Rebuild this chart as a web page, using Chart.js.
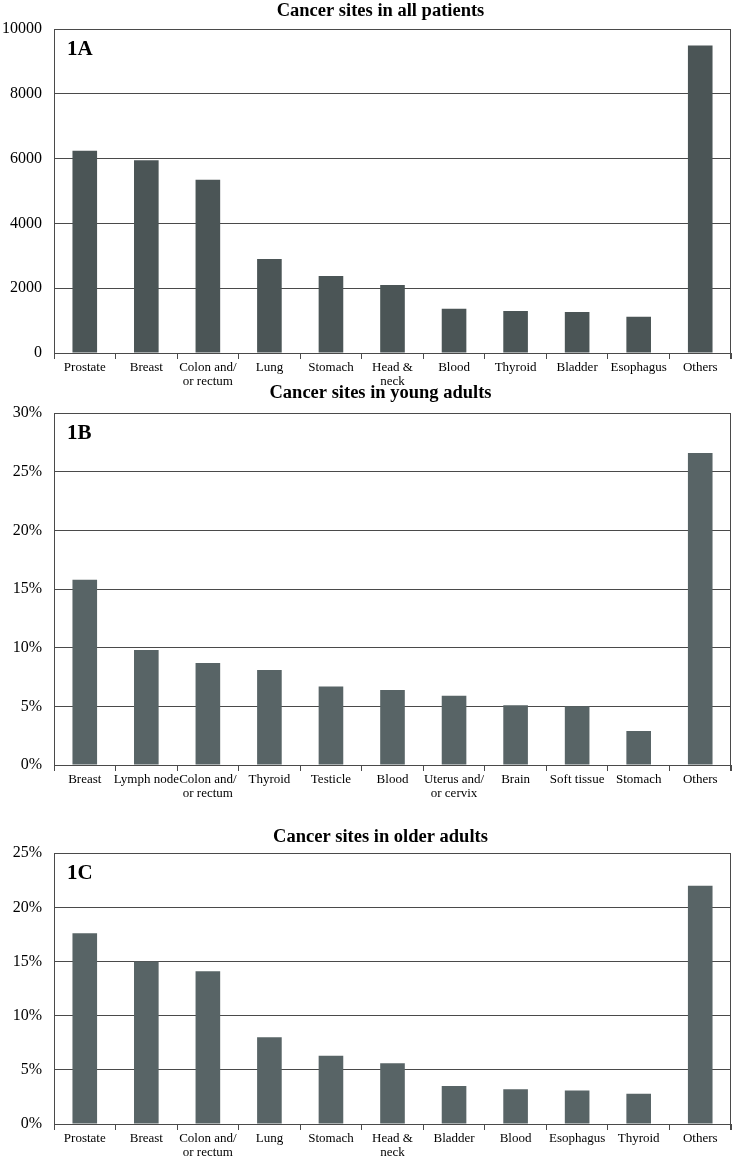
<!DOCTYPE html>
<html>
<head>
<meta charset="utf-8">
<script src="https://cdn.jsdelivr.net/npm/chart.js@4.4.1/dist/chart.umd.min.js"></script>
<style>
  body { margin: 0; background: #fff; width: 733px; height: 1159px; position: relative; overflow: hidden; }
  .box { position: absolute; left: 0; width: 733px; }
</style>
</head>
<body>
<div class="box" style="top:0;height:390px"><canvas id="chartA"></canvas></div>
<div class="box" style="top:382px;height:418px"><canvas id="chartB"></canvas></div>
<div class="box" style="top:826px;height:333px"><canvas id="chartC"></canvas></div>
<script>
// 1A - all patients (number of patients)
const sitesAll = ["Prostate", "Breast", ["Colon and/", "or rectum"], "Lung", "Stomach", ["Head &", "neck"],
  "Blood", "Thyroid", "Bladder", "Esophagus", "Others"];
const countsAll = [6250, 5950, 5350, 2900, 2380, 2100, 1370, 1300, 1270, 1120, 9500];

// 1B - young adults (%)
const sitesYoung = ["Breast", "Lymph node", ["Colon and/", "or rectum"], "Thyroid", "Testicle", "Blood",
  ["Uterus and/", "or cervix"], "Brain", "Soft tissue", "Stomach", "Others"];
const pctYoung = [15.8, 9.8, 8.7, 8.1, 6.7, 6.4, 5.9, 5.1, 5.0, 2.9, 26.6];

// 1C - older adults (%)
const sitesOlder = ["Prostate", "Breast", ["Colon and/", "or rectum"], "Lung", "Stomach", ["Head &", "neck"],
  "Bladder", "Blood", "Esophagus", "Thyroid", "Others"];
const pctOlder = [17.6, 15.0, 14.1, 8.0, 6.3, 5.6, 3.5, 3.2, 3.1, 2.8, 22.0];

const serif = "'Liberation Serif', 'Times New Roman', serif";
const lineCol = "#4a4a4a";

// draws the right edge of the frame and the panel tag (1A, 1B, 1C)
const framePlugin = {
  id: "frame",
  afterLayout(chart, args, opts) {
    // original titles sit a bit right of the canvas centre
    const tb = chart.titleBlock;
    if (tb) { tb.left += opts.shift; tb.right += opts.shift; }
  },
  afterDraw(chart, args, opts) {
    const { ctx, chartArea: a } = chart;
    ctx.save();
    ctx.strokeStyle = lineCol;
    ctx.lineWidth = 1;
    ctx.beginPath();
    ctx.moveTo(a.right - 0.5, a.top);
    ctx.lineTo(a.right - 0.5, a.bottom + 6);
    ctx.stroke();
    ctx.fillStyle = "#000";
    ctx.font = "bold 21px " + serif;
    ctx.textBaseline = "middle";
    ctx.fillText(opts.tag, a.left + 13, a.top + 20);
    ctx.restore();
  }
};

function makeChart(id, title, tag, labels, values, color, yMax, yStep, pct, titlePad, xHeight) {
  return new Chart(document.getElementById(id), {
    type: "bar",
    data: {
      labels: labels,
      datasets: [{
        data: values,
        backgroundColor: color,
        barPercentage: 0.4,
        categoryPercentage: 1.0
      }]
    },
    options: {
      responsive: true,
      maintainAspectRatio: false,
      animation: false,
      layout: { padding: { left: 0, right: 2, top: 0, bottom: 0 } },
      plugins: {
        legend: { display: false },
        tooltip: { enabled: false },
        title: {
          display: true,
          text: title,
          color: "#000",
          font: { family: serif, size: 18.5, weight: "bold", lineHeight: 1.2 },
          padding: titlePad
        },
        frame: { tag: tag, shift: 15 }
      },
      scales: {
        x: {
          offset: true,
          grid: { display: true, drawOnChartArea: false, drawTicks: true, tickLength: 6, color: lineCol, offset: true },
          border: { display: true, color: lineCol, width: 1 },
          ticks: { autoSkip: false, maxRotation: 0, minRotation: 0, color: "#000", padding: 1,
            font: { family: serif, size: 13, lineHeight: 1.1 } },
          afterFit(scale) { scale.height = xHeight; }
        },
        y: {
          min: 0,
          max: yMax,
          grid: { color: lineCol, lineWidth: 1, drawTicks: false },
          border: { display: true, color: lineCol, width: 1 },
          ticks: {
            stepSize: yStep,
            color: "#000",
            padding: 12,
            font: { family: serif, size: 16 },
            callback: v => pct ? v + "%" : v
          },
          afterFit(scale) { scale.width = 54; }
        }
      }
    },
    plugins: [framePlugin]
  });
}

makeChart("chartA", "Cancer sites in all patients", "1A", sitesAll, countsAll, "#4b5556",
  10000, 2000, false, { top: 0, bottom: 7 }, 37);
makeChart("chartB", "Cancer sites in young adults", "1B", sitesYoung, pctYoung, "#586466",
  30, 5, true, { top: 0, bottom: 9 }, 35);
makeChart("chartC", "Cancer sites in older adults", "1C", sitesOlder, pctOlder, "#586466",
  25, 5, true, { top: 0, bottom: 5 }, 35);
</script>
</body>
</html>
